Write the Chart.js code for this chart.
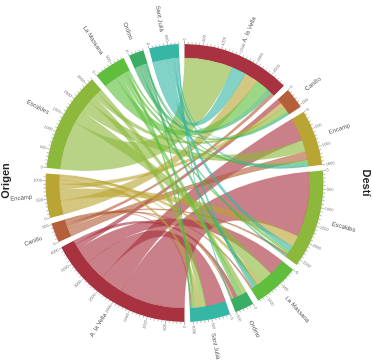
<!DOCTYPE html>
<html><head><meta charset="utf-8">
<script src="https://cdn.jsdelivr.net/npm/chart.js@4/dist/chart.umd.min.js"></script>
<style>html,body{margin:0;padding:0;background:#fff}#wrap{width:372px;height:360px}</style>
</head><body><div id="wrap"><canvas id="c" width="372" height="360"></canvas></div>
<script>
// ---- data ----
const categories = ['A. la Vella','Canillo','Encamp','Escaldes','La Massana','Ordino','Sant Julià'];
const colors = ['#a8323f','#b5603a','#b9a534','#8cb83c','#5fbe3c','#3aae64','#36b7a5'];
// flows from each origin (row) to each destination (same order as categories)
const fromAndorraLaVella = [0,150,700,1950,500,120,600];
const fromCanillo        = [100,0,250,60,50,30,40];
const fromEncamp         = [410,150,0,340,120,40,130];
const fromEscaldes       = [1450,150,350,0,400,150,200];
const fromLaMassana      = [400,50,80,100,0,150,80];
const fromOrdino         = [150,30,40,60,100,0,30];
const fromSantJulia      = [430,30,80,150,80,30,0];
const axisTitles = ['Origen','Destí'];
const tickStep = 100, tickLabelStep = 500;

// ---- layout constants ----
const GAP = 154;
const FONT = '"Liberation Sans", Arial, sans-serif';

const matrix = [fromAndorraLaVella, fromCanillo, fromEncamp, fromEscaldes, fromLaMassana, fromOrdino, fromSantJulia];
const n = categories.length;
const originTotals = matrix.map(r => r.reduce((a,b)=>a+b,0));
const destTotals = categories.map((_,j)=>matrix.reduce((a,r)=>a+r[j],0));

const segData=[], segColors=[], segLabels=[], segInfo=[];
function pushSeg(side, idx, total){
  segData.push(total); segColors.push(colors[idx]); segLabels.push(categories[idx]);
  segInfo.push({side, idx, total});
  segData.push(GAP); segColors.push('rgba(0,0,0,0)'); segLabels.push(''); segInfo.push(null);
}
destTotals.forEach((t,j)=>pushSeg('d',j,t));
originTotals.forEach((t,i)=>pushSeg('o',i,t));

function rgba(hex,a){
  const r=parseInt(hex.slice(1,3),16),g=parseInt(hex.slice(3,5),16),b=parseInt(hex.slice(5,7),16);
  return `rgba(${r},${g},${b},${a})`;
}

const chordPlugin = {
  id:'chord',
  afterDatasetsDraw(chart){
    const ctx = chart.ctx;
    const arcs = chart.getDatasetMeta(0).data;
    const segArc = {d:[], o:[]};
    arcs.forEach((a,k)=>{ const info=segInfo[k]; if(info) segArc[info.side][info.idx]=a; });
    const cx = arcs[0].x, cy = arcs[0].y, R = arcs[0].outerRadius, r = arcs[0].innerRadius;
    const subO=[], subD=[];
    for(let i=0;i<n;i++){
      const a=segArc.o[i]; const k=(a.endAngle-a.startAngle)/originTotals[i];
      let cur=a.startAngle; subO[i]=[];
      const order=[...Array(n).keys()].sort((p,q)=>matrix[i][q]-matrix[i][p]);
      for(const j of order){ const w=matrix[i][j]*k; subO[i][j]=[cur,cur+w]; cur+=w; }
    }
    for(let j=0;j<n;j++){
      const a=segArc.d[j]; const k=(a.endAngle-a.startAngle)/destTotals[j];
      let cur=a.startAngle; subD[j]=[];
      const order=[...Array(n).keys()].sort((p,q)=>matrix[q][j]-matrix[p][j]);
      for(const i of order){ const w=matrix[i][j]*k; subD[j][i]=[cur,cur+w]; cur+=w; }
    }
    ctx.save();
    // ribbons
    for(let i=0;i<n;i++){
      for(let j=0;j<n;j++){
        if(!matrix[i][j]) continue;
        const [s0,s1]=subO[i][j], [t0,t1]=subD[j][i];
        ctx.beginPath();
        ctx.moveTo(cx+r*Math.cos(s0), cy+r*Math.sin(s0));
        ctx.arc(cx,cy,r,s0,s1);
        ctx.quadraticCurveTo(cx,cy,cx+r*Math.cos(t0),cy+r*Math.sin(t0));
        ctx.arc(cx,cy,r,t0,t1);
        ctx.quadraticCurveTo(cx,cy,cx+r*Math.cos(s0),cy+r*Math.sin(s0));
        ctx.closePath();
        ctx.fillStyle=rgba(colors[i],0.62);
        ctx.fill();
        ctx.strokeStyle=rgba(colors[i],0.45);
        ctx.lineWidth=0.4;
        ctx.stroke();
      }
    }
    // ticks, tick labels, names
    arcs.forEach((a,k)=>{
      const info=segInfo[k]; if(!info) return;
      const scale=(a.endAngle-a.startAngle)/info.total;
      for(let v=0; v<=info.total; v+=tickStep){
        const ang=a.startAngle+v*scale;
        const major = v % tickLabelStep === 0;
        ctx.beginPath();
        ctx.moveTo(cx+R*Math.cos(ang), cy+R*Math.sin(ang));
        ctx.lineTo(cx+(R+(major?3:2))*Math.cos(ang), cy+(R+(major?3:2))*Math.sin(ang));
        ctx.strokeStyle='#888'; ctx.lineWidth=0.6; ctx.stroke();
        if(major){
          drawRadial(ctx,cx,cy,ang,R+3.5,String(v),'4px '+FONT,'#777');
        }
      }
      const mid=(a.startAngle+a.endAngle)/2;
      drawRadial(ctx,cx,cy,mid,R+14,categories[info.idx],'6px '+FONT,'#555');
    });
    // axis titles
    ctx.fillStyle='#222'; ctx.font='bold 11px '+FONT; ctx.textAlign='center'; ctx.textBaseline='middle';
    ctx.save(); ctx.translate(6,181); ctx.rotate(-Math.PI/2); ctx.fillText(axisTitles[0],0,0); ctx.restore();
    ctx.save(); ctx.translate(366,183); ctx.rotate(Math.PI/2); ctx.fillText(axisTitles[1],0,0); ctx.restore();
    ctx.restore();
  }
};

function drawRadial(ctx,cx,cy,ang,rad,text,font,color){
  let th = (ang + Math.PI/2) % (2*Math.PI); if(th<0) th+=2*Math.PI;
  const left = th > Math.PI + 1e-6;
  ctx.save();
  ctx.translate(cx,cy); ctx.rotate(ang); ctx.translate(rad,0);
  if(left){ ctx.rotate(Math.PI); ctx.textAlign='right'; } else ctx.textAlign='left';
  ctx.textBaseline='middle'; ctx.font=font; ctx.fillStyle=color;
  ctx.fillText(text,0,0);
  ctx.restore();
}

new Chart(document.getElementById('c'),{
  type:'doughnut',
  data:{labels:segLabels, datasets:[{data:segData, backgroundColor:segColors, borderWidth:0, hoverOffset:0}]},
  options:{
    responsive:false, animation:false, rotation:0, cutout:125,
    layout:{padding:{left:45,right:48,top:44,bottom:38}},
    plugins:{legend:{display:false}, tooltip:{enabled:false}},
    events:[]
  },
  plugins:[chordPlugin]
});
</script></body></html>
